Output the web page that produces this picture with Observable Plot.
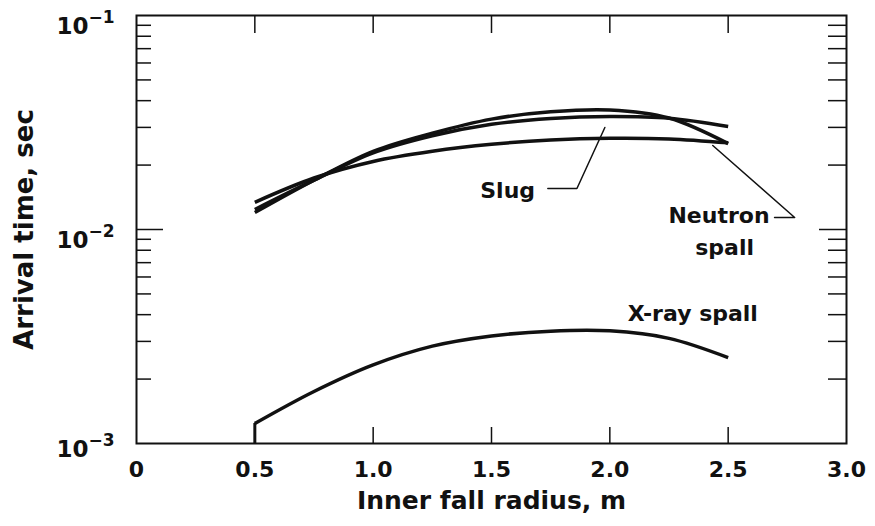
<!DOCTYPE html>
<html>
<head>
<meta charset="utf-8">
<script src="https://cdn.jsdelivr.net/npm/d3@7"></script>
<script src="https://cdn.jsdelivr.net/npm/@observablehq/plot@0.6"></script>
<style>
  html, body { margin: 0; padding: 0; background: #fff; }
  #chart { width: 875px; height: 526px; }
  svg { font-family: "DejaVu Sans", sans-serif; }
</style>
</head>
<body>
<div id="chart"></div>
<script>
// ---- data ----
const radius    = [0.5, 0.75, 1.0, 1.25, 1.5, 1.75, 2.0, 2.25, 2.5];
const neutronA  = [0.0120, 0.0170, 0.0232, 0.0282, 0.0328, 0.0355, 0.0362, 0.0332, 0.0252];
const neutronB  = [0.0124, 0.0170, 0.0228, 0.0274, 0.0310, 0.0330, 0.0337, 0.0331, 0.0303];
const slug      = [0.0134, 0.0174, 0.0208, 0.0232, 0.0250, 0.0262, 0.0267, 0.0265, 0.0254];
const xray      = [0.00124, 0.00175, 0.00233, 0.00285, 0.00318, 0.00335, 0.00336, 0.00310, 0.00252];

const xTicks      = [0, 0.5, 1.0, 1.5, 2.0, 2.5, 3.0];
const xInnerTicks = [0.5, 1.0, 1.5, 2.0, 2.5];
const yDecades    = [0.1, 0.01, 0.001];
const yMinor      = [0.002,0.003,0.004,0.005,0.006,0.007,0.008,0.009,
                     0.02,0.03,0.04,0.05,0.06,0.07,0.08,0.09];
const yMajorInner = [0.01];

// annotation text and leader lines (data coordinates)
const labelSlug    = {text: "Slug", x: 1.684, y: 0.0152};
const labelNeutron = [{text: "Neutron", x: 2.675, y: 0.01162}, {text: "spall", x: 2.485, y: 0.00824}];
const labelXray    = {text: "X-ray spall", x: 2.076, y: 0.00405};
const leaderSlug    = [{x: 1.738, y: 0.01554}, {x: 1.861, y: 0.01554}, {x: 1.979, y: 0.02997}];
const leaderNeutron = [{x: 2.696, y: 0.01138}, {x: 2.781, y: 0.01138}, {x: 2.435, y: 0.0247}];

const xTitle = "Inner fall radius, m";
const yTitle = "Arrival time, sec";

// ---- build table ----
const series = [["Neutron spall A", neutronA], ["Neutron spall B", neutronB], ["Slug", slug], ["X-ray spall", xray]];
const rows = series.flatMap(([name, vals]) => vals.map((v, i) => ({series: name, r: radius[i], t: v})));

const W = 875, H = 526, mL = 136, mR = 29, mT = 15, mB = 83;
const pw = W - mL - mR, ph = H - mT - mB;
const ink = "#111";

const chart = Plot.plot({
  width: W, height: H,
  marginLeft: mL, marginRight: mR, marginTop: mT, marginBottom: mB,
  style: {background: "#fff", color: ink, fontFamily: "DejaVu Sans, sans-serif"},
  x: {domain: [0, 3]},
  y: {type: "log", domain: [0.001, 0.1]},
  marks: [
    Plot.frame({stroke: ink, strokeWidth: 2}),
    // inner ticks
    Plot.tickY(yMinor, {y: d => d, stroke: ink, strokeWidth: 1.5, insetRight: pw - 15}),
    Plot.tickY(yMajorInner, {y: d => d, stroke: ink, strokeWidth: 1.5, insetRight: pw - 27}),
    Plot.tickY(yMinor, {y: d => d, stroke: ink, strokeWidth: 1.5, insetLeft: pw - 18}),
    Plot.tickY(yMajorInner, {y: d => d, stroke: ink, strokeWidth: 1.5, insetLeft: pw - 27}),
    Plot.tickX(xInnerTicks, {x: d => d, stroke: ink, strokeWidth: 1.5, insetTop: ph - 16}),
    Plot.tickX(xInnerTicks, {x: d => d, stroke: ink, strokeWidth: 1.5, insetBottom: ph - 18}),
    // axes labels
    Plot.axisX({ticks: xTicks, tickSize: 0, tickPadding: 18, fontSize: 22, fontWeight: "bold",
      tickFormat: d => d === 0 ? "0" : d.toFixed(1), label: null}),
    Plot.axisY({ticks: yDecades, tickSize: 0, tickPadding: 22, fontSize: 23, fontWeight: "bold",
      tickFormat: d => "\u2212" + Math.round(-Math.log10(d)), label: null}),
    Plot.text([xTitle], {frameAnchor: "bottom", dy: 65, text: d => d, fontSize: 25, fontWeight: "bold", fill: ink}),
    Plot.text([yTitle], {frameAnchor: "left", textAnchor: "middle", dx: -112, rotate: -90, text: d => d, fontSize: 26, fontWeight: "bold", fill: ink}),
    // curves
    Plot.ruleX([0.5], {y1: 0.001, y2: xray[0], stroke: ink, strokeWidth: 3}),
    Plot.line(rows, {x: "r", y: "t", z: "series", curve: "catmull-rom", stroke: ink, strokeWidth: 3.5, strokeLinecap: "butt"}),
    // leaders
    Plot.line(leaderSlug, {x: "x", y: "y", stroke: ink, strokeWidth: 1.5}),
    Plot.line(leaderNeutron, {x: "x", y: "y", stroke: ink, strokeWidth: 1.5}),
    // annotation labels
    Plot.text([labelSlug], {x: "x", y: "y", text: "text", textAnchor: "end", fontSize: 22, fontWeight: "bold", fill: ink}),
    Plot.text([labelNeutron[0]], {x: "x", y: "y", text: "text", textAnchor: "end", fontSize: 22, fontWeight: "bold", fill: ink}),
    Plot.text([labelNeutron[1]], {x: "x", y: "y", text: "text", fontSize: 22, fontWeight: "bold", fill: ink}),
    Plot.text([labelXray], {x: "x", y: "y", text: "text", textAnchor: "start", fontSize: 22, fontWeight: "bold", fill: ink})
  ]
});

// superscript exponents on the y tick labels
const ns = "http://www.w3.org/2000/svg";
chart.querySelectorAll('g[aria-label="y-axis tick label"] text').forEach(t => {
  const exp = t.textContent;
  const last = exp.endsWith("3");
  t.textContent = "";
  t.setAttribute("y", "0");
  t.removeAttribute("dy");
  const a = document.createElementNS(ns, "tspan");
  a.setAttribute("dy", last ? "13" : "18");
  a.textContent = "10";
  const b = document.createElementNS(ns, "tspan");
  b.setAttribute("dy", "-11");
  b.setAttribute("font-size", "17");
  b.textContent = exp;
  t.append(a, b);
});

document.getElementById("chart").append(chart);
</script>
</body>
</html>
